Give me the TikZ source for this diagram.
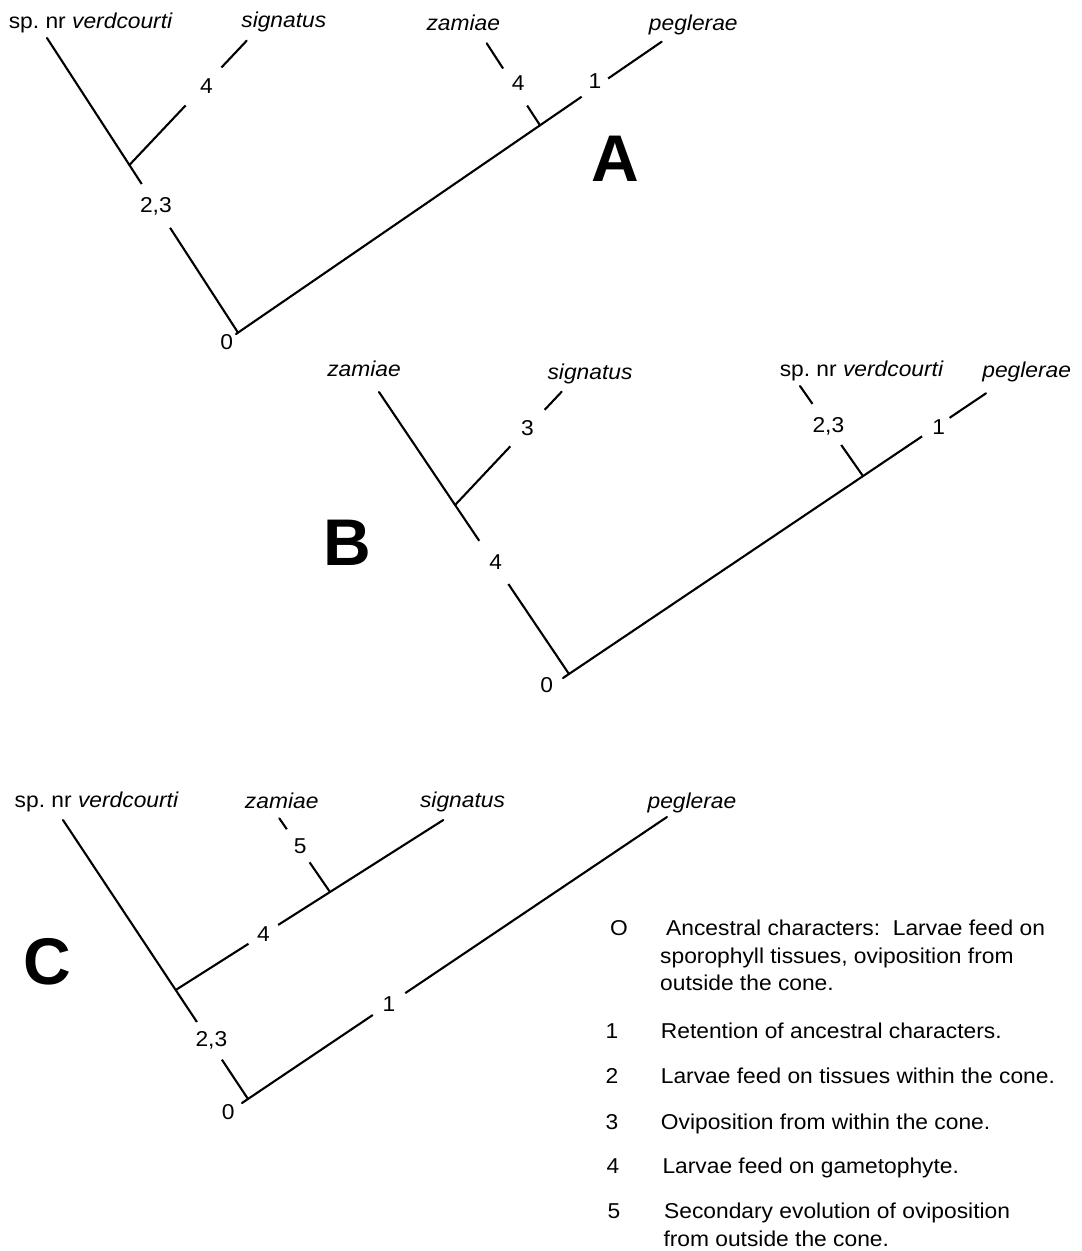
\documentclass[tikz,border=0pt]{standalone}
\usepackage{fontspec}
\setmainfont{Liberation Sans}[FakeStretch=1.06]
\newfontfamily\panelfont{Liberation Sans}
\newcommand{\txtfont}{\fontsize{21.5}{26}\selectfont}
\frenchspacing
\begin{document}
\begin{tikzpicture}[x=1pt,y=-1pt,
  branch/.style={line width=2.1pt, line cap=round, line join=round},
  gap/.style={circle, fill=white, inner sep=0pt, minimum size=#1},
  numlab/.style={inner sep=0pt, font=\txtfont},
  taxon/.style={anchor=base, inner sep=0pt, font=\txtfont},
  panel/.style={inner sep=0pt, font=\panelfont\bfseries\fontsize{66}{70}\selectfont},
  legnum/.style={anchor=base, inner sep=0pt, font=\txtfont},
  legtext/.style={anchor=base west, inner sep=0pt, font=\txtfont}]

\useasboundingbox (0,0) rectangle (1082,1251);

% ---------------- Tree A ----------------
\coordinate (Av) at (47,38);
\coordinate (Aj1) at (129.4,165);
\coordinate (Ar) at (238,332.6);
\coordinate (Art) at (236,334);
\coordinate (As) at (246.7,40.7);
\coordinate (Aj2) at (540,125.3);
\coordinate (Az) at (486.7,43.3);
\coordinate (Ap) at (661.7,41.7);

\draw[branch] (Av) -- (Aj1) -- node[gap=52,pos=0.244,label={[numlab]center:{2,3}}] (A23) {} (Ar);
\draw[branch] (Art) -- (Aj2) -- node[gap=32,pos=0.451,label={[numlab,yshift=6pt]center:1}] (A1) {} (Ap);
\draw[branch] (Aj1) -- node[gap=52,pos=0.632,label={[numlab,xshift=3pt]center:4}] (A4s) {} (As);
\draw[branch] (Aj2) -- node[gap=44,pos=0.467,label={[numlab,xshift=3pt,yshift=4pt]center:4}] (A4z) {} (Az);

\node[numlab] (A0) at (226.7,341.7) {0};
\node[taxon] (tAv) at (90.8,28) {sp. nr \textit{verdcourti}};
\node[taxon] (tAs) at (283.8,27) {\textit{signatus}};
\node[taxon] (tAz) at (463.3,30) {\textit{zamiae}};
\node[taxon] (tAp) at (693.3,30) {\textit{peglerae}};
\node[panel] (pA) at (615,159) {A};

% ---------------- Tree B ----------------
\coordinate (Bz) at (379,392);
\coordinate (Br) at (569,674);
\coordinate (Brt) at (563,678);
\coordinate (Bj1) at (455.1,505);
\coordinate (Bs) at (561.7,391.7);
\coordinate (Bj2) at (863,476.1);
\coordinate (Bv) at (800,386);
\coordinate (Bp) at (986,393.3);

\draw[branch] (Bz) -- (Bj1) -- node[gap=52,pos=0.34,label={[numlab,xshift=2pt]center:4}] (B4) {} (Br);
\draw[branch] (Bj1) -- node[gap=50,pos=0.679,label={[numlab]center:3}] (B3) {} (Bs);
\draw[branch] (Brt) -- (Bj2) -- node[gap=33,pos=0.592,label={[numlab,xshift=3pt]center:1}] (B1) {} (Bp);
\draw[branch] (Bj2) -- node[gap=50,pos=0.574,label={[numlab,xshift=1.5pt,yshift=-2pt]center:{2,3}}] (B23) {} (Bv);

\node[numlab] (B0) at (546.7,685) {0};
\node[taxon] (tBz) at (364,376) {\textit{zamiae}};
\node[taxon] (tBs) at (590,379) {\textit{signatus}};
\node[taxon] (tBv) at (861.7,376) {sp. nr \textit{verdcourti}};
\node[taxon] (tBp) at (1026.7,377) {\textit{peglerae}};
\node[panel] (pB) at (347,543) {B};

% ---------------- Tree C ----------------
\coordinate (Cv) at (63,820);
\coordinate (Cr) at (248,1099);
\coordinate (Crt) at (242,1103);
\coordinate (Cp) at (667,817);
\coordinate (Cj1) at (175.7,990);
\coordinate (Cj2) at (330,892);
\coordinate (Cs) at (443.3,820);
\coordinate (Cz) at (279.3,818.3);

\draw[branch] (Cv) -- (Cj1) -- node[gap=45,pos=0.466,label={[numlab,xshift=2pt]center:{2,3}}] (C23) {} (Cr);
\draw[branch] (Cj1) -- node[gap=35,pos=0.568,label={[numlab]center:4}] (C4) {} (Cj2) -- (Cs);
\draw[branch] (Cj2) -- node[gap=40,pos=0.627,label={[numlab,xshift=2pt]center:5}] (C5) {} (Cz);
\draw[branch] (Crt) -- node[gap=39,pos=0.346,label={[numlab]center:1}] (C1) {} (Cp);

\node[numlab] (C0) at (228.3,1111.7) {0};
\node[taxon] (tCv) at (96.7,807) {sp. nr \textit{verdcourti}};
\node[taxon] (tCz) at (281.7,808) {\textit{zamiae}};
\node[taxon] (tCs) at (462.5,807) {\textit{signatus}};
\node[taxon] (tCp) at (692,808) {\textit{peglerae}};
\node[panel] (pC) at (47,962) {C};

% ---------------- Legend ----------------
\node[legnum] (l0) at (619,935) {O};
\node[legtext] (l0a) at (666,935) {Ancestral characters:\ \ Larvae feed on};
\node[legtext] (l0b) at (660,963.3) {sporophyll tissues, oviposition from};
\node[legtext] (l0c) at (660,990.7) {outside the cone.};
\node[legnum] (l1) at (612,1038.3) {1};
\node[legtext] (l1a) at (660.7,1038.3) {Retention of ancestral characters.};
\node[legnum] (l2) at (612,1083.3) {2};
\node[legtext] (l2a) at (660.7,1083.3) {Larvae feed on tissues within the cone.};
\node[legnum] (l3) at (612,1129.3) {3};
\node[legtext] (l3a) at (660.7,1129.3) {Oviposition from within the cone.};
\node[legnum] (l4) at (613,1173.3) {4};
\node[legtext] (l4a) at (662.3,1173.3) {Larvae feed on gametophyte.};
\node[legnum] (l5) at (614,1218.3) {5};
\node[legtext] (l5a) at (664,1218.3) {Secondary evolution of oviposition};
\node[legtext] (l5b) at (663.3,1246.7) {from outside the cone.};
\end{tikzpicture}
\end{document}
